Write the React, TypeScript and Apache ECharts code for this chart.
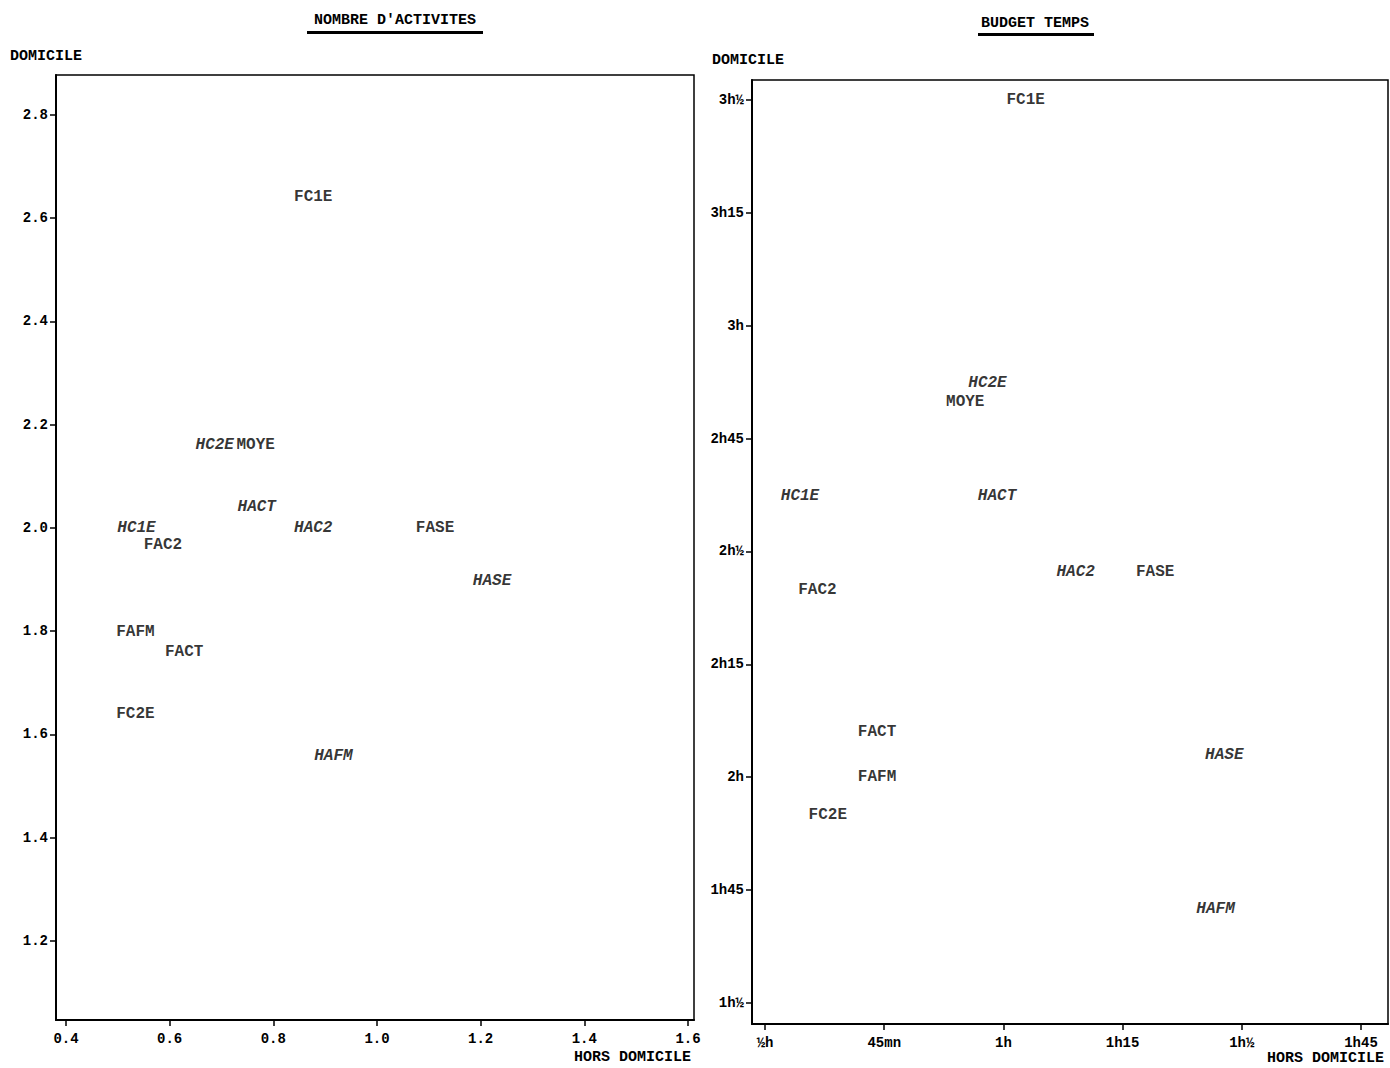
import React, { useEffect, useRef } from "react";
import * as echarts from "echarts";

// ---- Chart A : NOMBRE D'ACTIVITES ----
const namesA = ["FC1E", "HC2E", "MOYE", "HACT", "HC1E", "HAC2", "FASE", "FAC2", "HASE", "FAFM", "FACT", "FC2E", "HAFM"];
const horsA = [0.877, 0.687, 0.766, 0.768, 0.536, 0.877, 1.112, 0.587, 1.222, 0.534, 0.628, 0.534, 0.916];
const domA = [2.64, 2.16, 2.16, 2.04, 2.0, 2.0, 2.0, 1.966, 1.897, 1.798, 1.759, 1.639, 1.559];
const xTicksA = [0.4, 0.6, 0.8, 1.0, 1.2, 1.4, 1.6];
const xTickLabelsA = ["0.4", "0.6", "0.8", "1.0", "1.2", "1.4", "1.6"];
const yTicksA = [1.2, 1.4, 1.6, 1.8, 2.0, 2.2, 2.4, 2.6, 2.8];
const yTickLabelsA = ["1.2", "1.4", "1.6", "1.8", "2.0", "2.2", "2.4", "2.6", "2.8"];

// ---- Chart B : BUDGET TEMPS (minutes) ----
const namesB = ["FC1E", "HC2E", "MOYE", "HC1E", "HACT", "FAC2", "HAC2", "FASE", "FACT", "FAFM", "FC2E", "HASE", "HAFM"];
const horsB = [62.8, 58.0, 55.2, 34.4, 59.2, 36.6, 69.1, 79.1, 44.1, 44.1, 37.9, 87.8, 86.7];
const domB = [210, 172.4, 169.8, 157.4, 157.4, 144.9, 147.3, 147.3, 126.0, 120, 115.0, 122.9, 102.5];
const xTicksB = [30, 45, 60, 75, 90, 105];
const xTickLabelsB = ["½h", "45mn", "1h", "1h15", "1h½", "1h45"];
const yTicksB = [90, 105, 120, 135, 150, 165, 180, 195, 210];
const yTickLabelsB = ["1h½", "1h45", "2h", "2h15", "2h½", "2h45", "3h", "3h15", "3h½"];

const FONT = '"Liberation Mono", "DejaVu Sans Mono", monospace';

function fmt(ticks: number[], labels: string[]) {
  return (v: number) => {
    for (let i = 0; i < ticks.length; i++) if (Math.abs(ticks[i] - v) < 1e-6) return labels[i];
    return "";
  };
}

function buildData(names: string[], xs: number[], ys: number[]) {
  return names.map((n, i) => ({
    name: n,
    value: [xs[i], ys[i]],
    label: { fontStyle: n.startsWith("H") ? "italic" : "normal" },
  }));
}

function axisCommon(ticks: number[], labels: string[], margin: number) {
  return {
    type: "value" as const,
    scale: true,
    splitLine: { show: false },
    axisLine: { show: true, onZero: false, lineStyle: { color: "#000", width: 2 } },
    axisTick: { show: true, length: 6, customValues: ticks, lineStyle: { color: "#000", width: 1.5 } },
    axisLabel: {
      show: true,
      customValues: ticks,
      formatter: fmt(ticks, labels),
      fontFamily: FONT,
      fontWeight: "bold",
      fontSize: 14,
      color: "#000",
      margin,
    },
  };
}

export default function App() {
  const ref = useRef<HTMLDivElement>(null);
  useEffect(() => {
    if (!ref.current) return;
    const chart = echarts.init(ref.current, null, { renderer: "svg" });
    const labelStyle = {
      show: true,
      position: "inside",
      formatter: "{b}",
      fontFamily: FONT,
      fontWeight: "bold",
      fontSize: 16,
      color: "#000",
      align: "center",
      verticalAlign: "middle",
    };
    const textStyle = (text: string, x: number, y: number, align: string) => ({
      type: "text",
      x,
      y,
      style: { text, font: `bold 15px ${FONT}`, fill: "#000", textAlign: align, textVerticalAlign: "middle" },
    });
    chart.setOption({
      animation: false,
      backgroundColor: "#fff",
      grid: [
        { left: 56, top: 75, width: 638, height: 945, show: true, borderColor: "#000", borderWidth: 1.5 },
        { left: 752, top: 80, width: 636, height: 944, show: true, borderColor: "#000", borderWidth: 1.5 },
      ],
      xAxis: [
        { ...axisCommon(xTicksA, xTickLabelsA, 12), gridIndex: 0, min: 0.3807, max: 1.6116 },
        { ...axisCommon(xTicksB, xTickLabelsB, 12), gridIndex: 1, min: 28.36, max: 108.4 },
      ],
      yAxis: [
        { ...axisCommon(yTicksA, yTickLabelsA, 8), gridIndex: 0, min: 1.047, max: 2.877 },
        { ...axisCommon(yTicksB, yTickLabelsB, 8), gridIndex: 1, min: 87.2, max: 212.66 },
      ],
      series: [
        {
          type: "scatter",
          xAxisIndex: 0,
          yAxisIndex: 0,
          symbolSize: 1,
          itemStyle: { color: "rgba(0,0,0,0)" },
          label: labelStyle,
          data: buildData(namesA, horsA, domA),
        },
        {
          type: "scatter",
          xAxisIndex: 1,
          yAxisIndex: 1,
          symbolSize: 1,
          itemStyle: { color: "rgba(0,0,0,0)" },
          label: labelStyle,
          data: buildData(namesB, horsB, domB),
        },
      ],
      graphic: [
        textStyle("NOMBRE D'ACTIVITES", 395, 20, "center"),
        { type: "rect", shape: { x: 307, y: 31, width: 176, height: 3 }, style: { fill: "#000" } },
        textStyle("BUDGET TEMPS", 1035, 23, "center"),
        { type: "rect", shape: { x: 978, y: 33, width: 116, height: 3 }, style: { fill: "#000" } },
        textStyle("DOMICILE", 10, 56, "left"),
        textStyle("DOMICILE", 712, 60, "left"),
        textStyle("HORS DOMICILE", 691, 1057, "right"),
        textStyle("HORS DOMICILE", 1384, 1058, "right"),
      ],
    });
    return () => chart.dispose();
  }, []);
  return <div ref={ref} style={{ position: "absolute", left: 0, top: 0, width: 1390, height: 1068 }} />;
}
